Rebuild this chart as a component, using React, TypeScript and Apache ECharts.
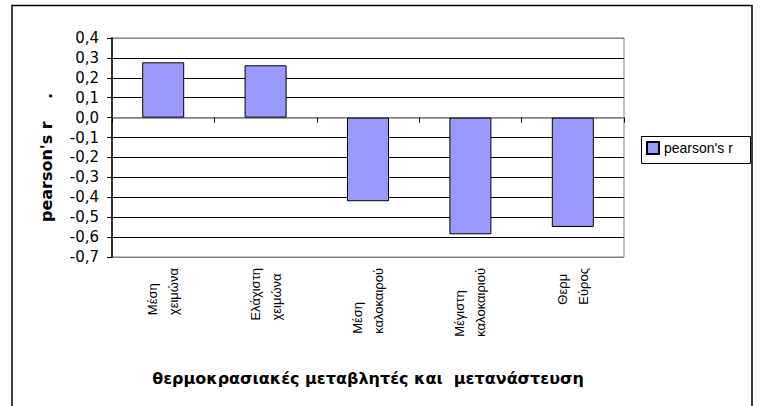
import React, { useEffect, useRef } from "react";
import * as echarts from "echarts";

const categories: string[] = [
  "Μέση\nχειμώνα",
  "Ελάχιστη\nχειμώνα",
  "Μέση\nκαλοκαιρού",
  "Μέγιστη\nκαλοκαιριού",
  "Θερμ\nΕύρος",
];
const pearsonR: number[] = [0.278, 0.263, -0.42, -0.586, -0.549];
const seriesName = "pearson's r";
const yAxisTitle = "pearson's r    .";
const xAxisTitle = "θερμοκρασιακές μεταβλητές και  μετανάστευση";
const yMin = -0.7;
const yMax = 0.4;
const yStep = 0.1;

export default function App() {
  const ref = useRef<HTMLDivElement>(null);
  useEffect(() => {
    if (!ref.current) return;
    const chart = echarts.init(ref.current, null, { renderer: "svg" });
    const splitColors: string[] = [];
    const nLines = Math.round((yMax - yMin) / yStep) + 1;
    for (let i = 0; i < nLines; i++) {
      const v = yMin + i * yStep;
      splitColors.push(i === 0 || i === nLines - 1 || Math.abs(v) < 1e-6 ? "#808080" : "#000000");
    }
    chart.setOption({
      animation: false,
      backgroundColor: "#ffffff",
      grid: {
        left: 112,
        top: 38,
        right: 137,
        bottom: 149,
        show: true,
        borderColor: "#808080",
        borderWidth: 1,
        backgroundColor: "transparent",
      },
      legend: {
        left: 646,
        top: 141,
        padding: 0,
        itemWidth: 12,
        itemHeight: 12,
        itemGap: 4,
        icon: "rect",
        textStyle: { fontFamily: "Liberation Sans", fontSize: 14, color: "#000" },
        data: [seriesName],
      },
      xAxis: [
        {
          type: "category",
          data: categories,
          position: "top",
          axisLine: { show: true, onZero: true, lineStyle: { color: "#808080", width: 1.5 } },
          axisTick: { show: true, inside: true, length: 5, lineStyle: { color: "#000", width: 1 } },
          axisLabel: { show: false },
          splitLine: { show: false },
        },
        {
          type: "category",
          data: categories,
          position: "bottom",
          axisLine: { show: false, onZero: false },
          axisTick: { show: false },
          splitLine: { show: false },
          axisLabel: {
            show: true,
            interval: 0,
            rotate: 90,
            margin: 11,
            formatter: (v: string) =>
              v
                .split("\n")
                .map((s) => `{l|${s}}`)
                .join("\n"),
            rich: {
              l: {
                align: "left",
                fontFamily: "Liberation Sans",
                fontSize: 13,
                lineHeight: 21,
                color: "#000",
              },
            },
          },
          name: xAxisTitle,
          nameLocation: "middle",
          nameGap: 113,
          nameTextStyle: {
            fontFamily: "DejaVu Sans",
            fontWeight: "bold",
            fontSize: 16,
            color: "#000",
          },
        },
      ],
      yAxis: {
        type: "value",
        min: yMin,
        max: yMax,
        interval: yStep,
        axisLine: { show: true, lineStyle: { color: "#000", width: 1.5 } },
        axisTick: { show: true, length: 5, lineStyle: { color: "#000", width: 1 } },
        axisLabel: {
          margin: 13,
          fontFamily: "DejaVu Sans",
          fontSize: 15,
          color: "#000",
          formatter: (v: number) => (Math.abs(v) < 1e-9 ? 0 : v).toFixed(1).replace(".", ","),
        },
        splitLine: { show: true, lineStyle: { color: splitColors, width: 1 } },
        name: yAxisTitle,
        nameLocation: "middle",
        nameGap: 58,
        nameRotate: 90,
        nameTextStyle: {
          fontFamily: "DejaVu Sans",
          fontWeight: "bold",
          fontSize: 16,
          color: "#000",
          padding: [0, 20, 0, 0],
        },
      },
      series: [
        {
          name: seriesName,
          type: "bar",
          xAxisIndex: 0,
          data: pearsonR,
          barWidth: "41%",
          itemStyle: { color: "#9999ff", borderColor: "#000", borderWidth: 1 },
        },
      ],
      graphic: [
        {
          type: "rect",
          shape: { x: 12, y: 5.5, width: 740, height: 420 },
          style: { fill: "none", stroke: "#000", lineWidth: 1.5 },
          silent: true,
          z: 100,
        },
        {
          type: "rect",
          shape: { x: 641.5, y: 136.5, width: 109, height: 27 },
          style: { fill: "none", stroke: "#000", lineWidth: 1 },
          silent: true,
          z: 100,
        },
      ],
    });
    return () => chart.dispose();
  }, []);
  return (
    <div
      ref={ref}
      style={{ position: "absolute", left: 0, top: 0, width: 761, height: 406 }}
    />
  );
}
